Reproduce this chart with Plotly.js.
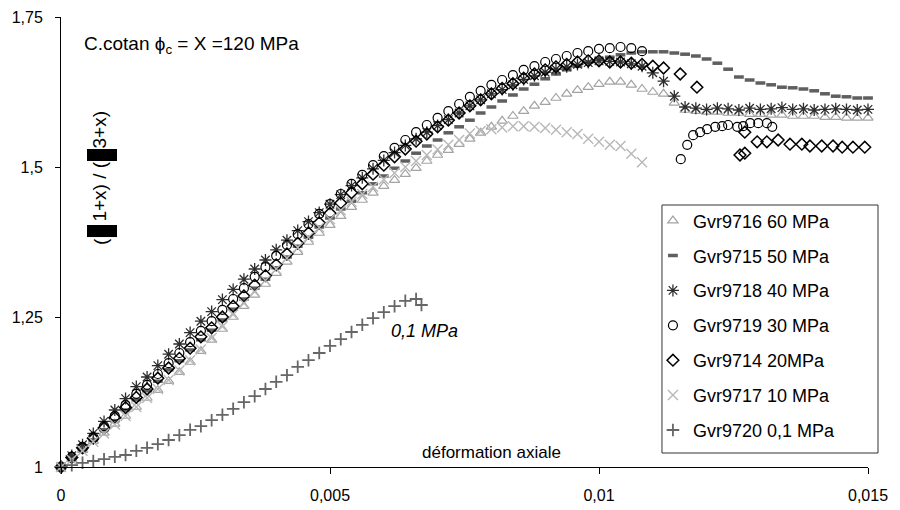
<!DOCTYPE html>
<html>
<head>
<meta charset="utf-8">
<script src="https://cdn.plot.ly/plotly-3.0.1.min.js"></script>
<style>html,body{margin:0;padding:0;background:#fff;}#chart{width:900px;height:510px;}</style>
</head>
<body>
<div id="chart"></div>
<script>
// ---------- data ----------
const strainGrid = [0,0.0002,0.0004,0.0006,0.0008,0.001,0.0012,0.0014,0.0016,0.0018,
  0.002,0.0022,0.0024,0.0026,0.0028,0.003,0.0032,0.0034,0.0036,0.0038,
  0.004,0.0042,0.0044,0.0046,0.0048,0.005,0.0052,0.0054,0.0056,0.0058,
  0.006,0.0062,0.0064,0.0066,0.0068,0.007,0.0072,0.0074,0.0076,0.0078,
  0.008,0.0082,0.0084,0.0086,0.0088,0.009,0.0092,0.0094,0.0096,0.0098,
  0.01,0.0102,0.0104,0.0106,0.0108,0.011,0.0112,0.0114,0.0116,0.0118,
  0.012,0.0122,0.0124,0.0126,0.0128,0.013,0.0132,0.0134,0.0136,0.0138,
  0.014,0.0142,0.0144,0.0146,0.0148,0.015];

const seriesNames = ['Gvr9716 60 MPa','Gvr9715 50 MPa','Gvr9718 40 MPa','Gvr9719 30 MPa','Gvr9714 20MPa','Gvr9717 10 MPa','Gvr9720 0,1 MPa'];

// 60 MPa (triangles)
const x60 = strainGrid;
const y60 = [1.000,1.013,1.028,1.043,1.057,1.072,1.085,1.100,1.115,1.128,
  1.143,1.158,1.175,1.193,1.212,1.230,1.250,1.268,1.287,1.305,
  1.323,1.342,1.358,1.375,1.390,1.403,1.418,1.433,1.445,1.457,
  1.468,1.478,1.488,1.498,1.510,1.520,1.528,1.538,1.547,1.557,
  1.567,1.577,1.585,1.593,1.602,1.608,1.615,1.622,1.628,1.633,
  1.638,1.642,1.642,1.637,1.630,1.625,1.622,1.607,1.595,1.593,
  1.592,1.592,1.590,1.590,1.588,1.588,1.587,1.587,1.585,1.585,
  1.585,1.583,1.583,1.582,1.582,1.582];

// 50 MPa (dashes)
const x50 = strainGrid;
const y50 = [1.000,1.015,1.030,1.045,1.062,1.077,1.095,1.112,1.127,1.143,
  1.162,1.177,1.195,1.212,1.228,1.245,1.263,1.280,1.298,1.313,
  1.332,1.350,1.368,1.383,1.400,1.415,1.430,1.443,1.457,1.472,
  1.485,1.498,1.510,1.523,1.535,1.545,1.557,1.567,1.578,1.590,
  1.600,1.610,1.620,1.630,1.638,1.647,1.655,1.662,1.668,1.675,
  1.680,1.683,1.687,1.690,1.692,1.692,1.692,1.690,1.688,1.685,
  1.680,1.673,1.663,1.650,1.645,1.640,1.637,1.633,1.632,1.630,
  1.627,1.622,1.618,1.617,1.615,1.615];

// 40 MPa (asterisks)
const x40 = strainGrid;
const y40 = [1.000,1.019,1.037,1.056,1.076,1.095,1.114,1.134,1.150,1.169,
  1.188,1.205,1.224,1.243,1.259,1.279,1.296,1.313,1.330,1.345,
  1.362,1.378,1.394,1.409,1.424,1.438,1.454,1.469,1.482,1.497,
  1.511,1.524,1.536,1.547,1.558,1.569,1.579,1.590,1.602,1.612,
  1.622,1.629,1.637,1.646,1.652,1.658,1.663,1.667,1.671,1.674,
  1.677,1.676,1.675,1.672,1.668,1.657,1.643,1.618,1.600,1.598,
  1.596,1.598,1.597,1.595,1.598,1.596,1.597,1.599,1.596,1.597,
  1.595,1.596,1.597,1.596,1.595,1.596];

// 30 MPa (circles): rising branch then detached lower branch
const x30 = strainGrid.slice(0,55).concat([0.01152,0.01164,0.01175,0.01188,0.01201,0.01216,0.01229,0.0124,0.01257,0.01268,0.01281,0.01296,0.01312,0.01322]);
const y30 = [1.000,1.017,1.033,1.050,1.068,1.085,1.103,1.122,1.137,1.155,
  1.173,1.190,1.208,1.227,1.243,1.262,1.280,1.298,1.317,1.333,
  1.352,1.370,1.388,1.405,1.422,1.438,1.455,1.472,1.487,1.503,
  1.518,1.532,1.545,1.558,1.570,1.582,1.593,1.605,1.617,1.627,
  1.637,1.645,1.653,1.662,1.668,1.675,1.680,1.685,1.690,1.693,
  1.697,1.698,1.700,1.698,1.693,
  1.513,1.537,1.553,1.558,1.563,1.567,1.568,1.570,1.567,1.568,1.573,1.573,1.573,1.567];

// 20 MPa (diamonds)
const x20 = strainGrid.slice(0,55).concat([0.011,0.0112,0.01151,0.01182,0.01262,0.01271,0.01271,0.01294,0.01312,0.01333,0.01355,0.01377,0.01392,0.01414,0.01435,0.01452,0.01472,0.01494]);
const y20 = [1.000,1.016,1.032,1.048,1.065,1.082,1.099,1.116,1.130,1.148,
  1.165,1.181,1.198,1.217,1.232,1.250,1.268,1.285,1.303,1.319,
  1.337,1.355,1.373,1.390,1.407,1.423,1.440,1.457,1.472,1.488,
  1.503,1.517,1.530,1.543,1.555,1.567,1.578,1.590,1.602,1.612,
  1.622,1.631,1.639,1.648,1.655,1.662,1.667,1.671,1.675,1.677,
  1.677,1.675,1.675,1.673,1.671,
  1.668,1.665,1.655,1.633,1.520,1.523,1.558,1.542,1.542,1.545,1.538,1.538,1.535,1.535,1.535,1.533,1.533,1.533];

// 10 MPa (crosses)
const x10 = strainGrid.slice(0,55);
const y10 = [1.000,1.012,1.027,1.042,1.056,1.071,1.085,1.100,1.115,1.130,
  1.145,1.161,1.178,1.196,1.215,1.234,1.254,1.273,1.292,1.311,
  1.330,1.348,1.366,1.383,1.399,1.413,1.428,1.442,1.455,1.467,
  1.479,1.490,1.500,1.510,1.520,1.529,1.537,1.545,1.556,1.560,
  1.563,1.566,1.568,1.568,1.567,1.565,1.562,1.558,1.555,1.547,
  1.542,1.537,1.535,1.522,1.508];

// 0,1 MPa (plus)
const x01 = strainGrid.slice(0,34).concat([0.0067]);
const y01 = [1.000,1.003,1.007,1.010,1.013,1.017,1.020,1.027,1.032,1.038,
  1.045,1.053,1.062,1.068,1.078,1.087,1.097,1.108,1.118,1.130,
  1.142,1.153,1.167,1.178,1.190,1.202,1.213,1.225,1.237,1.248,
  1.258,1.268,1.277,1.280,1.270];

const xTickVals = [0,0.005,0.01,0.015];
const xTickText = ['0','0,005','0,01','0,015'];
const yTickVals = [1,1.25,1.5,1.75];
const yTickText = ['1','1,25','1,5','1,75'];

// ---------- traces ----------
function mk(i, xs, ys, marker){
  return {type:'scatter', mode:'markers', name:seriesNames[i], x:xs, y:ys,
    legendgroup:'g'+i, marker:marker, cliponaxis:false, hoverinfo:'skip'};
}
const traces = [
  mk(0, x60, y60, {symbol:'triangle-up-open', size:9, color:'#a3a3a3', line:{width:1.2, color:'#a3a3a3'}}),
  mk(1, x50, y50, {symbol:'line-ew-open', size:7, color:'#5f5f5f', line:{width:3.5, color:'#5f5f5f'}}),
  mk(2, x40, y40, {symbol:'asterisk-open', size:10, color:'#2e2e2e', line:{width:1.3, color:'#2e2e2e'}}),
  mk(3, x30, y30, {symbol:'circle-open', size:9, color:'#000', line:{width:1.2, color:'#000'}}),
  mk(4, x20, y20, {symbol:'diamond-open', size:9, color:'#000', line:{width:1.5, color:'#000'}}),
  mk(5, x10, y10, {symbol:'x-thin-open', size:10, color:'#b8b8b8', line:{width:1.4, color:'#b8b8b8'}}),
  mk(6, x01, y01, {symbol:'cross-thin-open', size:9, color:'#666', line:{width:1.8, color:'#666'}})
];

const ff = 'Liberation Sans, Arial, sans-serif';
const layout = {
  width:900, height:510,
  margin:{l:61, r:32, t:17, b:43},
  paper_bgcolor:'#ffffff', plot_bgcolor:'#ffffff',
  font:{family:ff, color:'#000', size:16},
  showlegend:true,
  xaxis:{range:[0,0.015], tickvals:xTickVals, ticktext:xTickText, showline:true, linecolor:'#000', linewidth:1,
    ticks:'outside', ticklen:6, tickcolor:'#000', showgrid:false, zeroline:false, ticklabelstandoff:8,
    tickfont:{size:16, family:ff, color:'#000'}},
  yaxis:{range:[1,1.75], tickvals:yTickVals, ticktext:yTickText, showline:true, linecolor:'#000', linewidth:1,
    ticks:'outside', ticklen:5, tickcolor:'#000', showgrid:false, zeroline:false, ticklabelstandoff:9,
    tickfont:{size:16, family:ff, color:'#000'}},
  legend:{x:0.7335, y:0.588, xanchor:'left', yanchor:'top', borderwidth:0, bgcolor:'rgba(0,0,0,0)',
    font:{size:18, family:ff, color:'#000'}, tracegroupgap:8.5, traceorder:'grouped'},
  annotations:[
    {xref:'paper', yref:'paper', x:0.026, y:0.938, xanchor:'left', yanchor:'middle', showarrow:false,
      text:'C.cotan ϕ<sub>c</sub> = X =120 MPa', font:{size:19, family:ff, color:'#000'}},
    {xref:'paper', yref:'paper', x:0.451, y:0.302, xanchor:'center', yanchor:'middle', showarrow:false,
      text:'<i>0,1 MPa</i>', font:{size:18, family:ff, color:'#000'}},
    {xref:'paper', yref:'paper', x:0.534, y:0.033, xanchor:'center', yanchor:'middle', showarrow:false,
      text:'déformation axiale', font:{size:17, family:ff, color:'#000'}},
    {xref:'paper', yref:'paper', x:0.0483, y:0.502, xanchor:'center', yanchor:'middle', showarrow:false, textangle:-90,
      text:'(', font:{size:19, family:ff, color:'#000'}},
    {xref:'paper', yref:'paper', x:0.0483, y:0.612, xanchor:'center', yanchor:'middle', showarrow:false, textangle:-90,
      text:'1+x) / (', font:{size:19, family:ff, color:'#000'}},
    {xref:'paper', yref:'paper', x:0.0483, y:0.750, xanchor:'center', yanchor:'middle', showarrow:false, textangle:-90,
      text:'3+x)', font:{size:19, family:ff, color:'#000'}}
  ],
  shapes:[
    {type:'rect', xref:'paper', yref:'paper', x0:0.0322, x1:0.0694, y0:0.680, y1:0.7067, fillcolor:'#000', line:{width:0}},
    {type:'rect', xref:'paper', yref:'paper', x0:0.0322, x1:0.0694, y0:0.511, y1:0.5378, fillcolor:'#000', line:{width:0}},
    // legend frame
    {type:'rect', xref:'paper', yref:'paper', x0:0.7447, x1:1.0124, y0:0.0311, y1:0.5822, fillcolor:'rgba(0,0,0,0)', line:{width:1, color:'#333'}, layer:'below'}
  ]
};

Plotly.newPlot('chart', traces, layout, {displayModeBar:false, staticPlot:true});
</script>
</body>
</html>
